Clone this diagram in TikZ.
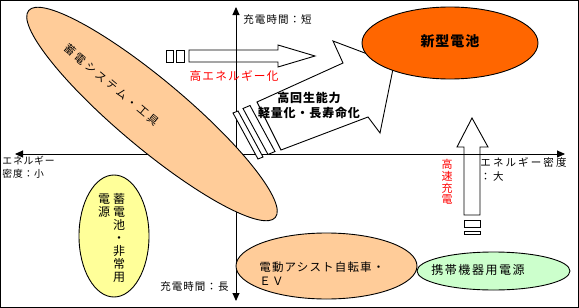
\documentclass[tikz,border=0pt]{standalone}
\usepackage{fontspec}
\usetikzlibrary{arrows.meta,shapes.geometric}
\newfontfamily\jp{Noto Sans CJK JP}
\newcommand{\fs}[1]{\fontsize{#1}{#1}\selectfont}
\newcommand{\ls}[1]{\addfontfeatures{LetterSpace=#1}}
\definecolor{newc}{HTML}{FF6600}
\definecolor{tanc}{HTML}{FFCC99}
\definecolor{yelc}{HTML}{FFFF99}
\definecolor{grnc}{HTML}{CCFFCC}
\definecolor{redc}{HTML}{FF0000}
\begin{document}
\begin{tikzpicture}[x=1pt,y=-1pt,line width=0.9pt,
  every node/.style={inner sep=0pt},
  ax/.style={line width=0.9pt,{Triangle[length=8pt,width=7pt]}-{Triangle[length=8pt,width=7pt]}},
  blk/.style={draw,line width=0.9pt},
  oval/.style={ellipse,draw,line width=0.9pt,inner sep=0pt},
  lbl/.style={font=\jp\fs{10.5}\ls{10}},
  redt/.style={text=redc,font=\jp\fs{11.7}\ls{10}},
  redv/.style={text=redc,align=center,font=\jp\fontsize{11}{11.7}\selectfont},
  bt/.style={font=\jp\bfseries\fs{12}\ls{7}},
  vt/.style={align=center,font=\jp\fontsize{12}{13}\selectfont}]
\useasboundingbox (0,0) rectangle (579,308);
% frame
\draw[line width=1pt] (0.5,0.5) rectangle (578.5,307.5);
% axes
\coordinate (vtop) at (236,7);
\coordinate (vbot) at (236,301);
\coordinate (hl) at (15,154);
\coordinate (hr) at (565,154);
\draw[ax] (vbot) -- (vtop);
\draw[ax] (hl) -- (hr);
% axis labels
\node[lbl,anchor=west] (tshort) at (243,20) {充電時間：短};
\node[lbl,anchor=east] (tlong) at (229,287) {充電時間：長};
\node[lbl,anchor=west,font=\jp\fs{9.8}\ls{8}] (elow1) at (2,161) {エネルギー};
\node[lbl,anchor=west,font=\jp\fs{9.8}\ls{8}] (elow2) at (2,174) {密度：小};
\node[lbl,anchor=west,font=\jp\fs{10.5}\ls{20}] (ehigh1) at (480,162) {エネルギー密度};
\node[lbl,anchor=west,font=\jp\fs{10.5}\ls{20}] (ehigh2) at (480,177) {：大};
% horizontal block arrow
\draw[blk] (166,50) rectangle (173,62);
\draw[blk] (176,50) rectangle (184,62);
\draw[blk] (189,50) -- (278,50) -- (278,45) -- (315,56) -- (278,67) -- (278,62) -- (189,62) -- cycle;
\node[redt] (hienergy) at (234,76) {高エネルギー化};
% vertical block arrow
\draw[blk] (464,220) rectangle (480,227);
\draw[blk] (464,231) rectangle (480,234);
\draw[blk] (464,215) -- (464,147) -- (457,147) -- (472,118) -- (488,147) -- (480,147) -- (480,215) -- cycle;
\node[redv,anchor=north] (fast) at (447,159) {高\\速\\充\\電};
% tilted block arrow
\draw[blk,fill=white] (233,113) -- (238,111) -- (263,157) -- (258,159) -- cycle;
\draw[blk,fill=white] (243,108.5) -- (250,105.5) -- (275,151.5) -- (268,154.5) -- cycle;
\draw[blk,fill=white] (257,102) -- (343,63) -- (333,41) -- (394,64) -- (380,133) -- (368,117) -- (281,150) -- cycle;
\node[bt] (regen1) at (309,98) {高回生能力};
\node[bt] (regen2) at (309,113) {軽量化・長寿命化};
% new battery
\node[oval,fill=newc,minimum width=176,minimum height=72] (newbat) at (450,43) {};
\node[font=\jp\bfseries\fs{14}\ls{7}] (newbattxt) at (450,41) {新型電池};
% big tan ellipse
\node[oval,fill=tanc,rotate=-40,minimum width=322,minimum height=68] (hyb) at (152,114) {};
\node[rotate=-40,font=\jp\fs{11}\ls{24}] (hybtxt) at (112,85) {蓄電システム・工具};
% yellow ellipse
\node[oval,fill=yelc,minimum width=70,minimum height=122] (bat) at (114,236) {};
\node[vt,anchor=north] (batA) at (119,193) {蓄\\電\\池\\・\\非\\常\\用};
\node[vt,anchor=north] (batB) at (104,193) {電\\源};
% EV ellipse
\node[oval,fill=tanc,minimum width=181,minimum height=66] (ev) at (326.5,266) {};
\node[anchor=west,font=\jp\fs{11.5}\ls{10}] (evA) at (259,267) {電動アシスト自転車・};
\node[anchor=west,font=\jp\fs{11.5}\ls{10}] (evB) at (259,281) {ＥＶ};
% portable
\node[oval,fill=grnc,minimum width=153,minimum height=38] (port) at (493.5,271) {};
\node[font=\jp\fs{12}\ls{13}] (porttxt) at (478,270) {携帯機器用電源};
\end{tikzpicture}
\end{document}
